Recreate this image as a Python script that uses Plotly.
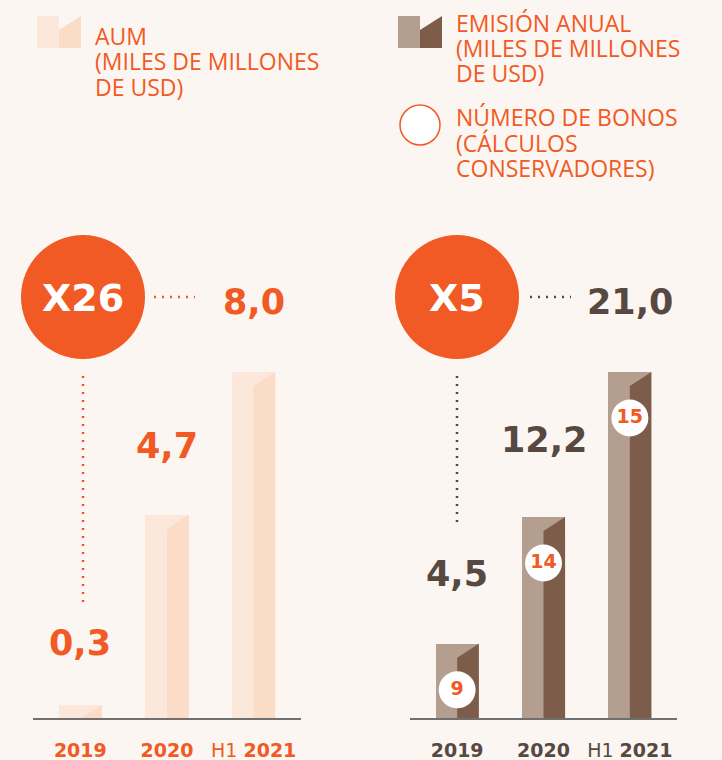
import plotly.graph_objects as go

# ---------------- data ----------------
categories = ["2019", "2020", "H1 2021"]
tick_labels = ["<b>2019</b>", "<b>2020</b>", "H1 <b>2021</b>"]
aum_values = [0.3, 4.7, 8.0]
aum_labels = ["0,3", "4,7", "8,0"]
emission_values = [4.5, 12.2, 21.0]
emission_labels = ["4,5", "12,2", "21,0"]
bond_counts = [9, 14, 15]
aum_multiplier = "X26"
emission_multiplier = "X5"

# ---------------- style ----------------
W, H = 722, 760
BG = "#FCF6F2"
ORANGE = "#F15A24"
DARKTXT = "#574842"
AUM_L, AUM_R = "#FCE8DB", "#FBDCC7"
EM_L, EM_R = "#B39E90", "#7D5D4A"
AXIS = "#707070"
NUMFONT = "DejaVu Sans"
TXTFONT = "Open Sans"


def X(p):
    return p / W


def Y(p):
    return 1 - p / H


fig = go.Figure()

BW = 0.5          # bar width in category units
SLANT_PX = 14     # slant depth of the darker half, in px
PLOT_PX = 346     # px height of the y domain


def add_bars(vals, left_col, right_col, xa, ya):
    xs = list(range(len(vals)))
    fig.add_trace(go.Bar(x=xs, y=vals, width=BW, marker=dict(color=left_col, line=dict(width=0)),
                         xaxis=xa, yaxis=ya, showlegend=False, hoverinfo="skip"))
    vmax = max(vals)
    d = SLANT_PX * vmax / PLOT_PX
    for i, v in enumerate(vals):
        fig.add_trace(go.Scatter(
            x=[i, i + BW / 2, i + BW / 2, i, i],
            y=[0, 0, v, max(v - d, 0), 0],
            fill="toself", fillcolor=right_col, mode="lines", line=dict(width=0),
            xaxis=xa, yaxis=ya, showlegend=False, hoverinfo="skip"))


add_bars(aum_values, AUM_L, AUM_R, "x", "y")
add_bars(emission_values, EM_L, EM_R, "x2", "y2")

# bond count circles on emission bars
k = 46 * max(emission_values) / PLOT_PX
fig.add_trace(go.Scatter(
    x=list(range(3)), y=[v - k for v in emission_values], mode="markers+text",
    marker=dict(size=37, color="white", line=dict(width=0)),
    text=[str(b) for b in bond_counts], textposition="middle center",
    textfont=dict(family=NUMFONT, size=19, color=ORANGE, weight="bold"),
    xaxis="x2", yaxis="y2", showlegend=False, hoverinfo="skip"))

ydom = [Y(718), Y(372)]
xr = [-0.546, 2.546]
common_x = dict(range=xr, showgrid=False, zeroline=False, showline=True, linecolor=AXIS,
                linewidth=1.5, tickmode="array", tickvals=[0, 1, 2], ticktext=tick_labels,
                ticks="", ticklabelstandoff=14, fixedrange=True)
fig.update_layout(
    width=W, height=H, margin=dict(l=0, r=0, t=0, b=0),
    paper_bgcolor=BG, plot_bgcolor=BG, bargap=0,
    xaxis=dict(domain=[X(33), X(301)], anchor="y",
               tickfont=dict(family=NUMFONT, size=19, color=ORANGE), **common_x),
    xaxis2=dict(domain=[X(410), X(677)], anchor="y2",
                tickfont=dict(family=NUMFONT, size=19, color=DARKTXT), **common_x),
    yaxis=dict(domain=ydom, range=[0, max(aum_values)], visible=False, fixedrange=True),
    yaxis2=dict(domain=ydom, range=[0, max(emission_values)], visible=False, fixedrange=True,
                anchor="x2"),
)

shapes = []
annotations = []

# ---------------- legend ----------------
def legend_icon(x0, left_col, right_col):
    shapes.append(dict(type="rect", xref="paper", yref="paper", x0=X(x0), x1=X(x0 + 22),
                       y0=Y(48), y1=Y(16), fillcolor=left_col, line=dict(width=0), layer="above"))
    path = f"M {X(x0+22)} {Y(48)} L {X(x0+44)} {Y(48)} L {X(x0+44)} {Y(16)} L {X(x0+22)} {Y(30)} Z"
    shapes.append(dict(type="path", xref="paper", yref="paper", path=path,
                       fillcolor=right_col, line=dict(width=0), layer="above"))


legend_icon(37, AUM_L, AUM_R)
legend_icon(398, EM_L, EM_R)
shapes.append(dict(type="circle", xref="paper", yref="paper", x0=X(400), x1=X(440),
                   y0=Y(145), y1=Y(105), fillcolor="white", line=dict(color=ORANGE, width=1.5)))


def txt(x, y, s, size=23, color=ORANGE, family=TXTFONT, weight="normal", xanchor="left"):
    annotations.append(dict(x=X(x), y=Y(y), xref="paper", yref="paper", text=s, showarrow=False,
                            xanchor=xanchor, yanchor="middle",
                            font=dict(family=family, size=size, color=color, weight=weight)))


for i, line in enumerate(["AUM", "(MILES DE MILLONES", "DE USD)"]):
    txt(93, 36 + 25.5 * i, line)
for i, line in enumerate(["EMISIÓN ANUAL", "(MILES DE MILLONES", "DE USD)"]):
    txt(454, 23 + 25 * i, line)
for i, line in enumerate(["NÚMERO DE BONOS", "(CÁLCULOS", "CONSERVADORES)"]):
    txt(454, 117 + 25.5 * i, line)

# ---------------- big circles, dotted connectors ----------------
for cx, label in [(83, aum_multiplier), (457, emission_multiplier)]:
    shapes.append(dict(type="circle", xref="paper", yref="paper", x0=X(cx - 62), x1=X(cx + 62),
                       y0=Y(359), y1=Y(235), fillcolor=ORANGE, line=dict(width=0)))
    txt(cx, 298, label, size=38, color="white", family=NUMFONT, weight="bold", xanchor="center")

dot = dict(width=2.5, dash="2px,6px")
shapes.append(dict(type="line", xref="paper", yref="paper", x0=X(154), x1=X(195), y0=Y(297), y1=Y(297),
                   line=dict(color=ORANGE, **dot)))
shapes.append(dict(type="line", xref="paper", yref="paper", x0=X(530), x1=X(571), y0=Y(297), y1=Y(297),
                   line=dict(color=DARKTXT, **dot)))
shapes.append(dict(type="line", xref="paper", yref="paper", x0=X(83), x1=X(83), y0=Y(376), y1=Y(604),
                   line=dict(color=ORANGE, **dot)))
shapes.append(dict(type="line", xref="paper", yref="paper", x0=X(457), x1=X(457), y0=Y(376), y1=Y(526),
                   line=dict(color=DARKTXT, **dot)))

# ---------------- value labels ----------------
aum_label_y = [643, 446, 302]
em_label_y = [574, 440, 302]
for i, (lab, yy) in enumerate(zip(aum_labels, aum_label_y)):
    annotations.append(dict(x=i, y=Y(yy), xref="x", yref="paper", text=lab, showarrow=False,
                            xanchor="center", yanchor="middle",
                            font=dict(family=NUMFONT, size=35, color=ORANGE, weight="bold")))
for i, (lab, yy) in enumerate(zip(emission_labels, em_label_y)):
    annotations.append(dict(x=i, y=Y(yy), xref="x2", yref="paper", text=lab, showarrow=False,
                            xanchor="center", yanchor="middle",
                            font=dict(family=NUMFONT, size=35, color=DARKTXT, weight="bold")))

fig.update_layout(shapes=shapes, annotations=annotations)
fig.write_html("out.html", config={"displayModeBar": False},
               post_script="document.body.style.margin='0px';document.body.style.overflow='hidden';")
